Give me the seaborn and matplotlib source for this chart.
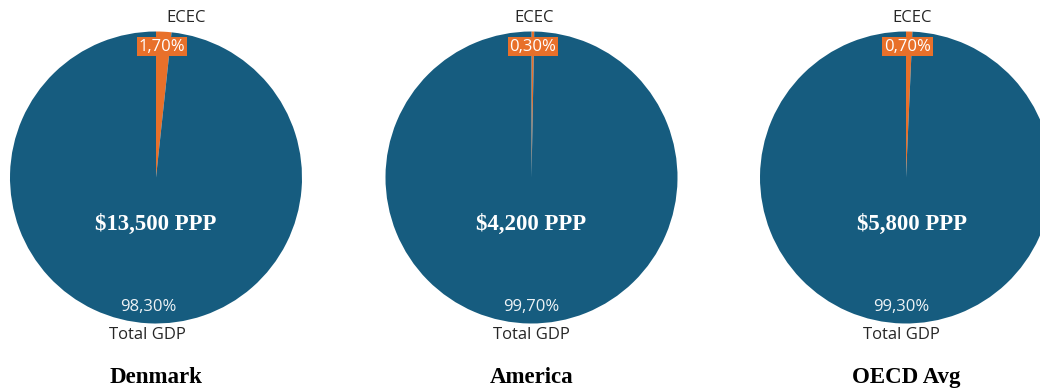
import matplotlib
matplotlib.use("Agg")
import matplotlib.pyplot as plt
import seaborn as sns

# Share of GDP spent on early childhood education and care (ECEC), per region
regions = ["Denmark", "America", "OECD Avg"]
slice_names = ["ECEC", "Total GDP"]
ecec_share = [1.70, 0.30, 0.70]
gdp_share = [98.30, 99.70, 99.30]
spend_ppp = [13500, 4200, 5800]

sns.set_theme(style="white")
plt.rcParams["font.family"] = ["Open Sans", "DejaVu Sans"]

BLUE = "#165C7F"
ORANGE = "#E8702A"
palette = sns.color_palette([ORANGE, BLUE])

W, H = 1040, 390
fig = plt.figure(figsize=(W / 100, H / 100), dpi=100)

# pie layout in pixels (centre x, centre y, radius)
centres_x = [156, 531.5, 906]
centre_y = 177.5
radius_px = 146
# horizontal nudges (in radius units) for the outside/inside labels
ecec_dx = [0.205, 0.015, 0.04]
box_dx = [0.04, 0.01, 0.01]
gdp_dx = [-0.05, 0.0, -0.03]
total_dx = [-0.06, 0.0, -0.03]
mid_dx = [0.0, 0.0, 0.04]

LABEL_SIZE = 12


def fmt_pct(v):
    return f"{v:.2f}".replace(".", ",") + "%"


for i, region in enumerate(regions):
    cx = centres_x[i]
    left = (cx - radius_px) / W
    bottom = (H - (centre_y + radius_px)) / H
    ax = fig.add_axes([left, bottom, 2 * radius_px / W, 2 * radius_px / H])
    ax.pie(
        [ecec_share[i], gdp_share[i]],
        colors=palette,
        startangle=90,
        counterclock=False,
        radius=1.0,
        wedgeprops=dict(linewidth=0),
    )
    ax.set_xlim(-1, 1)
    ax.set_ylim(-1, 1)
    ax.set_aspect("equal")
    ax.axis("off")

    ax.text(ecec_dx[i], 1.095, slice_names[0], ha="center", va="center",
            fontsize=LABEL_SIZE, color="#262626", clip_on=False)
    ax.text(box_dx[i], 0.895, fmt_pct(ecec_share[i]), ha="center", va="center",
            fontsize=LABEL_SIZE, color="white", clip_on=False,
            bbox=dict(boxstyle="square,pad=0.1", facecolor=ORANGE,
                      edgecolor="none"))
    ax.text(gdp_dx[i], -0.887, fmt_pct(gdp_share[i]), ha="center",
            va="center", fontsize=LABEL_SIZE, color="#EEF3F6", clip_on=False)
    ax.text(total_dx[i], -1.08, slice_names[1], ha="center", va="center",
            fontsize=LABEL_SIZE, color="#262626", clip_on=False)
    ax.text(mid_dx[i], -0.32, f"${spend_ppp[i]:,} PPP", ha="center",
            va="center", fontsize=16.5, fontweight="bold", color="white",
            family=["Liberation Serif", "DejaVu Serif"], clip_on=False)
    ax.text(0.0, -1.37, region, ha="center", va="center", fontsize=16.5,
            fontweight="bold", color="black",
            family=["Liberation Serif", "DejaVu Serif"], clip_on=False)

fig.savefig("out.png", dpi=100, facecolor="white")
